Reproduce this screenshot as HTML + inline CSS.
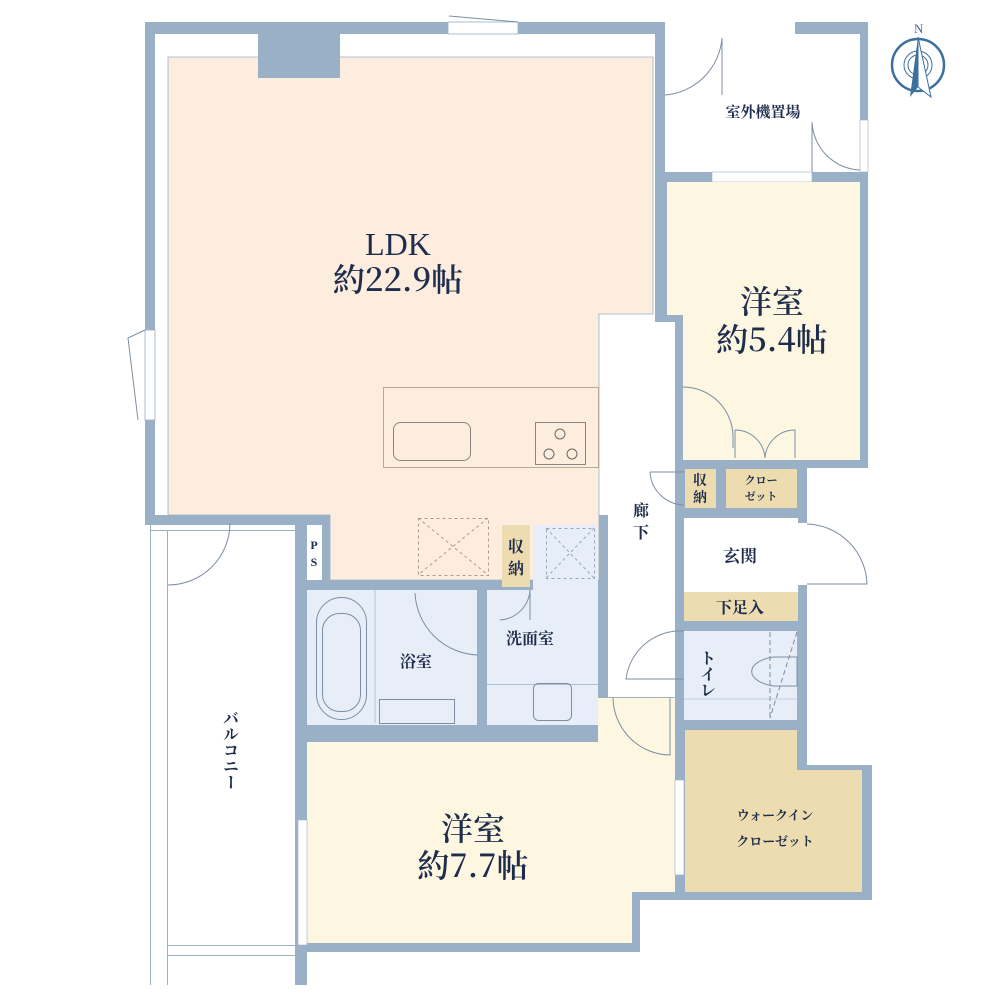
<!DOCTYPE html>
<html><head><meta charset="utf-8"><style>
html,body{margin:0;padding:0;background:#fff;}
svg{display:block}
text{font-family:"Liberation Serif","Noto Serif CJK SC",serif;fill:#1f2d4d;}
.big{font-family:"Noto Serif CJK SC","Liberation Serif",serif;font-weight:600;}
</style></head><body>
<svg width="1000" height="1000" viewBox="0 0 1000 1000" xmlns="http://www.w3.org/2000/svg">
<rect width="1000" height="1000" fill="#fff"/>
<path d="M145,22 H868 V468 H807 V765 H872 V900 H640 V952 H307 V985 H295 V525 H145 Z" fill="#9ab0c6"/>
<rect x="150" y="525" width="145" height="460" fill="#fff"/>
<line x1="150.5" y1="525" x2="150.5" y2="985" stroke="#9ab0c6"/>
<line x1="167.5" y1="530" x2="167.5" y2="985" stroke="#9ab0c6"/>
<line x1="150" y1="530.5" x2="295" y2="530.5" stroke="#9ab0c6"/>
<line x1="167" y1="945.5" x2="295" y2="945.5" stroke="#9ab0c6"/>
<line x1="167" y1="955.5" x2="295" y2="955.5" stroke="#9ab0c6"/>
<path d="M168,585 A62,62 0 0 0 230,523" fill="none" stroke="#7d8ea3" stroke-width="1"/>
<rect x="155" y="34" width="500" height="481" fill="#fff"/>
<path d="M168,57 H653 V314 H599 V580 H330 V515 H168 Z" fill="#fdeddf" stroke="#9ab0c6" stroke-width="0.8"/>
<rect x="258" y="34" width="82" height="44" fill="#9ab0c6"/>
<rect x="448" y="22" width="70" height="12" fill="#fff" stroke="#9ab0c6" stroke-width="0.8"/>
<path d="M449,16 L518,22" stroke="#7d8ea3" fill="none"/>
<rect x="665" y="22" width="130" height="12" fill="#fff"/>
<rect x="145" y="330" width="10" height="90" fill="#fff" stroke="#9ab0c6" stroke-width="0.8"/>
<path d="M145,330 L128,338 L138,420" stroke="#7d8ea3" fill="none"/>
<rect x="383.5" y="387.5" width="215" height="80" fill="none" stroke="#b8a898"/>
<rect x="393.5" y="422.5" width="77" height="38" rx="7" fill="none" stroke="#8a8580"/>
<rect x="535.5" y="422.5" width="50" height="42" fill="none" stroke="#8a8580"/>
<circle cx="560" cy="434" r="5" fill="none" stroke="#666"/>
<circle cx="549" cy="454" r="5" fill="none" stroke="#666"/>
<circle cx="572" cy="454" r="5" fill="none" stroke="#666"/>
<g stroke="#b09a90" stroke-dasharray="3,3" fill="none">
<rect x="418.5" y="518.5" width="70" height="57"/><path d="M418,518 L488,575 M488,518 L418,575"/>
</g>
<rect x="665" y="34" width="195" height="138" fill="#fff"/>
<rect x="860" y="120" width="8" height="52" fill="#fff" stroke="#9ab0c6" stroke-width="0.6"/>
<path d="M665,95 A62,62 0 0 0 722,38" fill="none" stroke="#7d8ea3"/><line x1="722" y1="38" x2="722" y2="95" stroke="#7d8ea3"/>
<path d="M812,122 V172 M812,122 A50,50 0 0 0 860,170" fill="none" stroke="#7d8ea3"/>
<rect x="712" y="172" width="100" height="10" fill="#fff" stroke="#9ab0c6" stroke-width="0.6"/>
<path d="M667,182 H860 V460 H683 V315 H667 Z" fill="#fdf6e1"/>
<path d="M683,387 A50,50 0 0 1 733,437 V448" fill="none" stroke="#7d8ea3"/>
<path d="M735,430 V458 M735,430 A30,30 0 0 1 765,458 A30,30 0 0 1 795,430 V458" fill="none" stroke="#7d8ea3"/>
<rect x="608" y="322" width="67" height="375" fill="#fff"/>
<rect x="675" y="460" width="9" height="160" fill="#9ab0c6"/>
<line x1="604" y1="330" x2="604" y2="460" stroke="#fff" stroke-width="2"/>
<path d="M650,472 A35,35 0 0 0 684,505" fill="none" stroke="#7d8ea3"/><line x1="650" y1="472" x2="684" y2="472" stroke="#7d8ea3"/>
<rect x="685" y="469" width="31" height="39" fill="#ecdcb0"/>
<rect x="726" y="469" width="71" height="39" fill="#ecdcb0"/>
<rect x="684" y="518" width="114" height="74" fill="#fff"/>
<rect x="684" y="592" width="114" height="29" fill="#ecdcb0"/>
<rect x="798" y="523" width="9" height="62" fill="#fff"/>
<path d="M807,524 A62,62 0 0 1 867,584 H807" fill="none" stroke="#7d8ea3"/>
<rect x="684" y="631" width="113" height="89" fill="#e8eef7"/>
<path d="M684,631 A55,55 0 0 0 626,679 H684" fill="none" stroke="#7d8ea3"/>
<path d="M774,657 H797 V686 H774 A30,15 0 0 1 774,657 Z" fill="none" stroke="#7d8ea3"/>
<line x1="770" y1="632" x2="770" y2="718" stroke="#7d8ea3" stroke-dasharray="5,3"/>
<line x1="797" y1="632" x2="770" y2="718" stroke="#7d8ea3" stroke-dasharray="5,3"/>
<line x1="684" y1="699" x2="797" y2="699" stroke="#9ab0c6" stroke-width="0.6"/>
<path d="M685,730 H797 V770 H862 V892 H685 Z" fill="#ecdcb0"/>
<path d="M307,742 H598 V698 H675 V892 H632 V943 H307 Z" fill="#fdf6e1"/>
<path d="M613,698 A58,58 0 0 0 670,755 V698" fill="none" stroke="#7d8ea3"/>
<rect x="675" y="780" width="9" height="95" fill="#fff" stroke="#9ab0c6" stroke-width="0.6"/>
<rect x="298" y="820" width="9" height="125" fill="#fff" stroke="#9ab0c6" stroke-width="0.6"/>
<rect x="307" y="590" width="170" height="135" fill="#e8eef7"/>
<line x1="375" y1="590" x2="375" y2="723" stroke="#9ab0c6" stroke-width="0.7"/>
<rect x="316.5" y="597.5" width="50" height="122" rx="25" fill="none" stroke="#7d8ea3"/>
<rect x="322.5" y="613.5" width="38" height="98" rx="17" fill="none" stroke="#7d8ea3"/>
<rect x="379.5" y="699.5" width="75" height="24" fill="none" stroke="#7d8ea3"/>
<path d="M415,593 A65,65 0 0 0 478,655" fill="none" stroke="#7d8ea3"/>
<path d="M533,525 H598 V725 H487 V590 H533 Z" fill="#e8eef7"/>
<rect x="502" y="525" width="28" height="62" fill="#ecdcb0"/>
<path d="M500,620 A32,32 0 0 0 530,590 V620" fill="none" stroke="#7d8ea3"/>
<line x1="487" y1="684.5" x2="598" y2="684.5" stroke="#9ab0c6" stroke-width="0.7"/>
<rect x="533.5" y="683.5" width="38" height="37" rx="5" fill="none" stroke="#7d8ea3"/>
<g stroke="#9aa6b8" stroke-dasharray="3,3" fill="none">
<rect x="546.5" y="528.5" width="48" height="50"/><path d="M546,528 L594,578 M594,528 L546,578"/>
</g>
<rect x="307" y="525" width="15" height="55" fill="#fff"/>
<g transform="translate(918,65)">
<circle r="26" fill="none" stroke="#3d6f9e" stroke-width="2.5"/>
<circle r="14" fill="none" stroke="#3d6f9e" stroke-width="1"/>
<circle r="10" fill="none" stroke="#3d6f9e" stroke-width="1"/>
<path d="M-8,32 L0,-28 L0,22 Z" fill="#3d6f9e"/>
<path d="M0,-28 L13,32 L0,22 Z" fill="#fff" stroke="#3d6f9e"/>
<text x="-4" y="-32" font-size="13" style="fill:#3d6f9e">N</text>
</g>
<g text-anchor="middle">
<text x="398" y="255" font-size="32" style="font-family:'Liberation Serif',serif">LDK</text>
<text class="big" x="398" y="291" font-size="32">約22.9帖</text>
<text class="big" x="772" y="313" font-size="32">洋室</text>
<text class="big" x="772" y="351" font-size="32">約5.4帖</text>
<text class="big" x="473" y="840" font-size="32">洋室</text>
<text class="big" x="473" y="877" font-size="32">約7.7帖</text>
<text x="763" y="117" font-size="15" font-weight="bold">室外機置場</text>
<text x="740" y="562" font-size="17" font-weight="bold">玄関</text>
<text x="740" y="613" font-size="16" font-weight="bold">下足入</text>
<text x="530" y="644" font-size="16" font-weight="bold">洗面室</text>
<text x="416" y="667" font-size="16" font-weight="bold">浴室</text>
<text x="775" y="820" font-size="13" font-weight="bold">ウォークイン</text>
<text x="775" y="846" font-size="13" font-weight="bold">クローゼット</text>
<text x="761" y="484" font-size="11" font-weight="bold">クロー</text>
<text x="761" y="500" font-size="11" font-weight="bold">ゼット</text>
<text x="700" y="485" font-size="14" font-weight="bold">収</text>
<text x="700" y="502" font-size="14" font-weight="bold">納</text>
<text x="516" y="552" font-size="16" font-weight="bold">収</text>
<text x="516" y="574" font-size="16" font-weight="bold">納</text>
<text x="641" y="516" font-size="16" font-weight="bold">廊</text>
<text x="641" y="538" font-size="16" font-weight="bold">下</text>
<text x="314" y="549" font-size="12" font-weight="bold">P</text>
<text x="314" y="566" font-size="12" font-weight="bold">S</text>
</g>
<text x="706" y="650" font-size="16" font-weight="bold" writing-mode="tb" text-anchor="start">トイレ</text>
<text x="229" y="710" font-size="16" font-weight="bold" writing-mode="tb" text-anchor="start">バルコニー</text>
</svg>
</body></html>
